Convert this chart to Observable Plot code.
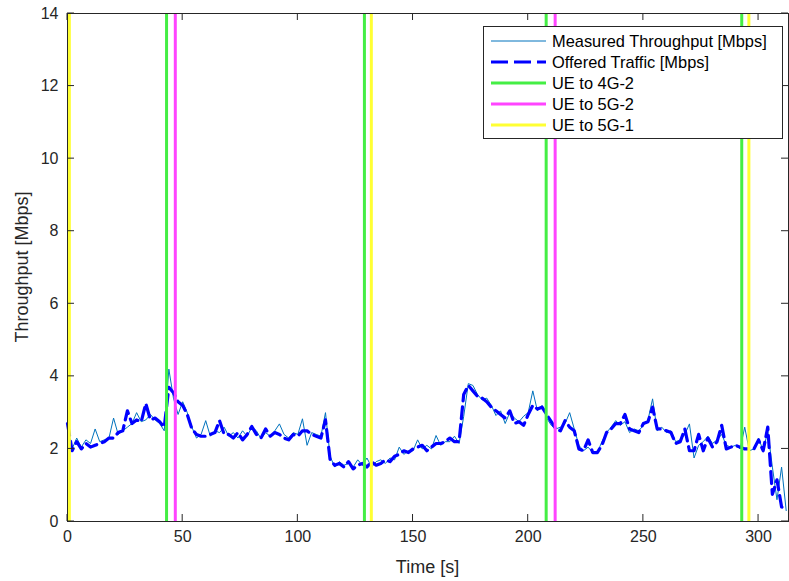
<!DOCTYPE html>
<html><head><meta charset="utf-8">
<script src="https://cdn.jsdelivr.net/npm/d3@7"></script>
<script src="https://cdn.jsdelivr.net/npm/@observablehq/plot@0.6"></script>
<style>
body{margin:0;background:#fff;}
#wrap{width:789px;height:581px;}
</style></head><body><div id="wrap"></div>
<script>
const time = [0,2,4,6,8,10,12,14,16,18,20,22,24,26,28,30,32,34,36,38,40,42,44,46,48,50,52,54,56,58,60,62,64,66,68,70,72,74,76,78,80,82,84,86,88,90,92,94,96,98,100,102,104,106,108,110,112,114,116,118,120,122,124,126,128,130,132,134,136,138,140,142,144,146,148,150,152,154,156,158,160,162,164,166,168,170,172,174,176,178,180,182,184,186,188,190,192,194,196,198,200,202,204,206,208,210,212,214,216,218,220,222,224,226,228,230,232,234,236,238,240,242,244,246,248,250,252,254,256,258,260,262,264,266,268,270,272,274,276,278,280,282,284,286,288,290,292,294,296,298,300,302,304,306,308,310,312];
const offered = [
2.70,1.95,2.20,2.00,2.15,2.05,2.10,2.15,2.20,2.30,
2.30,2.45,2.50,3.05,2.70,2.80,2.75,3.25,2.80,2.85,
2.75,2.60,3.70,3.55,3.30,3.20,2.95,2.55,2.40,2.35,
2.35,2.40,2.45,2.78,2.40,2.40,2.30,2.45,2.25,2.40,
2.62,2.40,2.30,2.55,2.35,2.45,2.40,2.30,2.25,2.40,
2.35,2.50,2.50,2.40,2.35,2.30,2.80,1.70,1.55,1.60,
1.50,1.65,1.45,1.55,1.60,1.50,1.65,1.55,1.60,1.70,
1.65,1.80,1.85,1.95,1.90,2.00,2.05,2.10,1.95,2.05,
2.15,2.15,2.20,2.30,2.20,2.20,3.50,3.75,3.60,3.45,
3.40,3.30,3.15,3.05,2.95,2.85,3.05,2.70,2.75,2.65,
2.95,3.20,3.10,3.15,2.95,2.75,2.55,2.50,2.78,2.60,
2.50,2.00,1.95,2.25,1.90,1.90,2.10,2.45,2.55,2.70,
2.70,2.95,2.55,2.50,2.45,2.70,2.75,3.15,2.55,2.55,
2.50,2.45,2.15,2.20,2.55,1.95,1.95,2.40,1.95,2.30,
2.05,2.20,2.65,2.00,2.05,2.10,2.05,2.00,2.00,2.00,
2.25,1.95,2.60,0.75,1.15,0.40,0.35];
const measured = [
2.60,2.00,2.30,2.05,2.25,2.15,2.55,2.20,2.25,2.30,
2.85,2.40,2.50,2.60,2.70,3.00,2.75,2.80,2.95,2.80,
2.70,2.50,4.20,3.40,2.95,3.30,3.00,2.60,2.30,2.40,
2.78,2.35,2.50,2.45,2.60,2.35,2.45,2.30,2.50,2.35,
2.60,2.50,2.28,2.45,2.35,2.50,2.69,2.40,2.30,2.45,
2.40,2.83,2.10,2.45,2.40,2.35,3.00,1.80,1.50,1.65,
1.55,1.60,1.50,1.70,1.55,1.75,1.50,1.65,1.70,1.60,
1.75,1.70,2.05,1.85,1.95,1.95,2.25,2.00,2.10,2.00,
2.37,2.10,2.20,2.20,2.35,2.15,2.90,3.80,3.75,3.50,
3.35,3.40,3.20,2.92,3.05,2.70,3.00,2.85,2.75,2.90,
3.00,3.60,3.05,3.20,2.85,2.65,2.55,2.60,2.70,3.00,
2.55,2.10,1.95,2.05,1.90,1.90,2.20,2.45,2.60,2.78,
2.65,2.75,2.45,2.55,2.50,2.65,2.80,3.38,2.50,2.60,
2.45,2.50,2.20,2.25,2.40,2.69,1.75,2.10,2.20,2.35,
2.15,2.25,2.40,2.10,2.05,2.10,2.00,2.60,1.95,2.00,
2.30,1.95,2.50,1.50,0.60,1.50,0.30];
const to4G2 = [43.0, 128.9, 207.8, 292.7];
const to5G2 = [46.8, 211.7];
const to5G1 = [0.8, 131.9, 295.8];
const xTicks = [0,50,100,150,200,250,300];
const yTicks = [0,2,4,6,8,10,12,14];
const legendItems = [
  {label:"Measured Throughput [Mbps]", color:"#0072BD", width:1, dash:null},
  {label:"Offered Traffic [Mbps]", color:"#0000FF", width:3, dash:"17,6"},
  {label:"UE to 4G-2", color:"#44EE44", width:3, dash:null},
  {label:"UE to 5G-2", color:"#FF44FF", width:3, dash:null},
  {label:"UE to 5G-1", color:"#FFFF33", width:3, dash:null}
];
const rows = time.map((t,i)=>({t, m: measured[i], o: offered[i]}));
const font = '"Liberation Sans", Arial, Helvetica, sans-serif';

const plot = Plot.plot({
  width: 789, height: 581,
  marginLeft: 67, marginRight: 1, marginTop: 13, marginBottom: 60,
  style: {fontFamily: font, fontSize: "16px", color: "#262626", background: "#fff"},
  x: {domain: [0, 313], ticks: xTicks, tickSize: 0, tickPadding: 9, label: null},
  y: {domain: [0, 14], ticks: yTicks, tickSize: 0, tickPadding: 9, label: null},
  marks: [
    Plot.line(rows, {x: "t", y: "m", stroke: "#0072BD", strokeWidth: 1}),
    Plot.line(rows, {x: "t", y: "o", stroke: "#0000FF", strokeWidth: 3.2, strokeDasharray: "12,6"}),
    Plot.ruleX(to4G2, {stroke: legendItems[2].color, strokeWidth: 3}),
    Plot.ruleX(to5G2, {stroke: legendItems[3].color, strokeWidth: 3}),
    Plot.ruleX(to5G1, {stroke: legendItems[4].color, strokeWidth: 3}),
    Plot.frame({stroke: "#262626", strokeWidth: 1})
  ]
});

const svg = d3.select(plot);
const sx = plot.scale("x"), sy = plot.scale("y");
const fTop = 13, fBottom = 521, fLeft = 67, fRight = 788;
const g = svg.append("g").attr("stroke", "#262626").attr("stroke-width", 1);
xTicks.forEach(v => {
  const x = sx.apply(v);
  g.append("line").attr("x1", x).attr("x2", x).attr("y1", fBottom).attr("y2", fBottom - 7);
  g.append("line").attr("x1", x).attr("x2", x).attr("y1", fTop).attr("y2", fTop + 7);
});
yTicks.forEach(v => {
  const y = sy.apply(v);
  g.append("line").attr("y1", y).attr("y2", y).attr("x1", fLeft).attr("x2", fLeft + 7);
  g.append("line").attr("y1", y).attr("y2", y).attr("x1", fRight).attr("x2", fRight - 7);
});
svg.append("text").attr("x", (fLeft + fRight) / 2).attr("y", 573)
  .attr("text-anchor", "middle").attr("font-family", font).attr("font-size", 18).attr("fill", "#262626")
  .text("Time [s]");
svg.append("text").attr("transform", `translate(28,${(fTop + fBottom) / 2}) rotate(-90)`)
  .attr("text-anchor", "middle").attr("font-family", font).attr("font-size", 18).attr("fill", "#262626")
  .text("Throughput [Mbps]");
const lg = svg.append("g").attr("transform", "translate(483,26)");
lg.append("rect").attr("x", 0.5).attr("y", 0.5).attr("width", 299).attr("height", 112)
  .attr("fill", "#fff").attr("stroke", "#262626").attr("stroke-width", 1);
legendItems.forEach((d, i) => {
  const y = 15 + i * 21;
  lg.append("line").attr("x1", 8).attr("x2", 63).attr("y1", y).attr("y2", y)
    .attr("stroke", d.color).attr("stroke-width", d.width).attr("stroke-dasharray", d.dash);
  lg.append("text").attr("x", 69).attr("y", y).attr("dy", "0.35em").attr("text-anchor", "start")
    .attr("font-family", font).attr("font-size", 16.4).attr("fill", "#000").text(d.label);
});
document.getElementById("wrap").appendChild(plot);
</script></body></html>
